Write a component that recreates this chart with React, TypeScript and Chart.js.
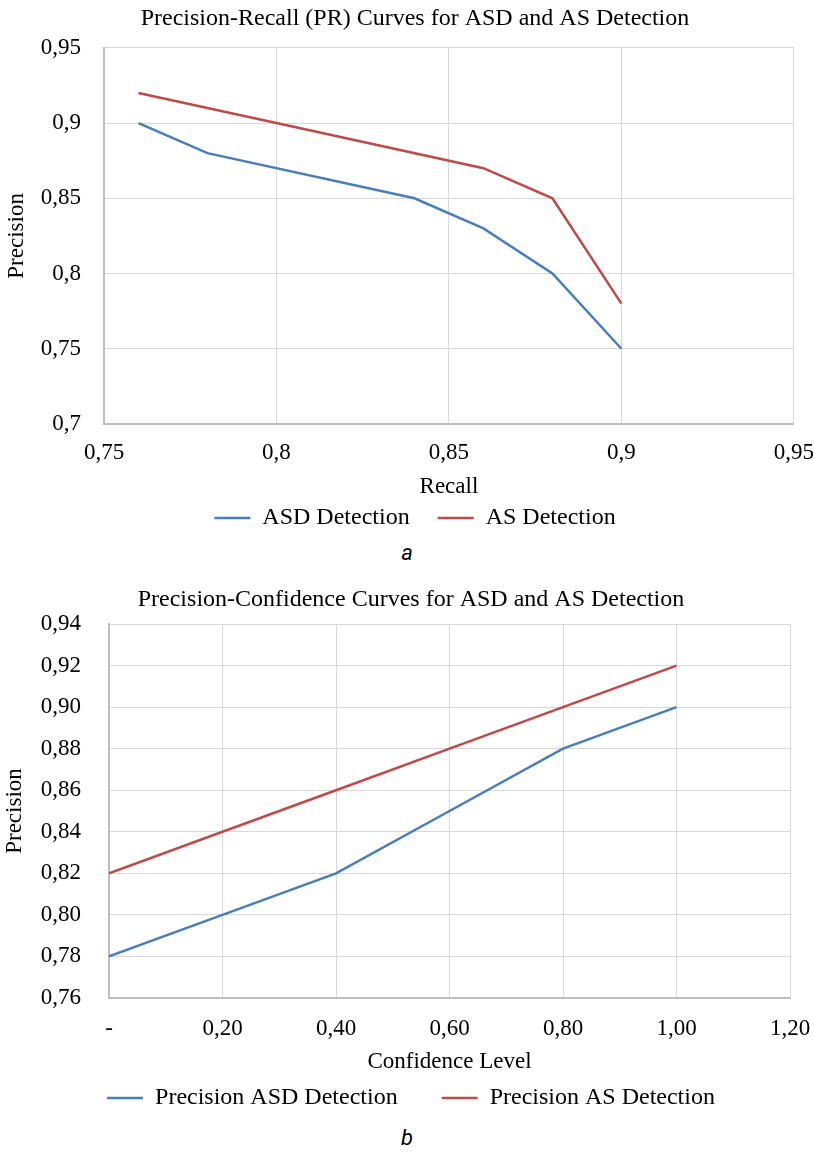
import React, { useEffect, useRef } from "react";
import { Chart, registerables } from "chart.js";

Chart.register(...registerables);

// ---- Chart (a): Precision-Recall ----
const prRecallASD = [0.76, 0.78, 0.84, 0.86, 0.88, 0.9];
const prPrecisionASD = [0.9, 0.88, 0.85, 0.83, 0.8, 0.75];
const prRecallAS = [0.76, 0.8, 0.86, 0.88, 0.9];
const prPrecisionAS = [0.92, 0.9, 0.87, 0.85, 0.78];
const prXTicks = ["0,75", "0,8", "0,85", "0,9", "0,95"];
const prYTicks = ["0,7", "0,75", "0,8", "0,85", "0,9", "0,95"];

// ---- Chart (b): Precision-Confidence ----
const confLevels = [0, 0.2, 0.4, 0.6, 0.8, 1.0];
const confPrecisionASD = [0.78, 0.8, 0.82, 0.85, 0.88, 0.9];
const confPrecisionAS = [0.82, 0.84, 0.86, 0.88, 0.9, 0.92];
const pcXTicks = ["-", "0,20", "0,40", "0,60", "0,80", "1,00", "1,20"];
const pcYTicks = ["0,76", "0,78", "0,80", "0,82", "0,84", "0,86", "0,88", "0,90", "0,92", "0,94"];

const BLUE = "#4A7EBB";
const RED = "#BE4B48";
const GRID = "#d9d9d9";
const AXIS = "#bfbfbf";
const SERIF = "'Liberation Serif', 'Times New Roman', serif";

const toPoints = (xs: number[], ys: number[]) => xs.map((x, i) => ({ x, y: ys[i] }));

const tickFrom = (labels: string[], min: number, step: number) => (value: any) => {
  const idx = Math.round((Number(value) - min) / step);
  return labels[idx] ?? "";
};

type Cfg = {
  title: string;
  titlePad: { top: number; bottom: number };
  xTitle: string;
  xMin: number; xMax: number; xStep: number; xLabels: string[];
  yMin: number; yMax: number; yStep: number; yLabels: string[];
  yWidth: number;
  yTickPad: number;
  yTitlePadTop: number;
  xTickGap: number;
  xHeight: number;
  xTitlePadBottom: number;
  legendPad: number;
  padLeft: number;
  padRight: number;
  series: { label: string; color: string; data: { x: number; y: number }[] }[];
};

function buildConfig(c: Cfg): any {
  return {
    type: "scatter",
    data: {
      datasets: c.series.map((s) => ({
        label: s.label,
        data: s.data,
        showLine: true,
        borderColor: s.color,
        backgroundColor: s.color,
        borderWidth: 2.5,
        pointRadius: 0,
        pointHoverRadius: 0,
        tension: 0,
        pointStyle: "line",
      })),
    },
    options: {
      responsive: false,
      animation: false,
      maintainAspectRatio: false,
      layout: { padding: { top: 0, left: c.padLeft, right: c.padRight, bottom: 0 } },
      plugins: {
        tooltip: { enabled: false },
        title: {
          display: true,
          text: c.title,
          color: "#000",
          font: { family: SERIF, size: 24, weight: "normal" },
          padding: c.titlePad,
        },
        legend: {
          display: true,
          position: "bottom",
          labels: {
            color: "#000",
            font: { family: SERIF, size: 24 },
            usePointStyle: true,
            pointStyle: "line",
            pointStyleWidth: 36,
            padding: c.legendPad,
          },
        },
      },
      scales: {
        x: {
          type: "linear",
          min: c.xMin,
          max: c.xMax,
          afterFit: (scale: any) => {
            scale.height = c.xHeight;
          },
          ticks: {
            stepSize: c.xStep,
            color: "#000",
            font: { family: SERIF, size: 23 },
            padding: 0,
            maxRotation: 0,
            autoSkip: false,
            callback: tickFrom(c.xLabels, c.xMin, c.xStep),
          },
          grid: {
            color: GRID,
            lineWidth: 1,
            drawTicks: true,
            tickLength: c.xTickGap,
            tickColor: "rgba(0,0,0,0)",
          },
          border: { color: AXIS, width: 2 },
          title: {
            display: true,
            text: c.xTitle,
            color: "#000",
            font: { family: SERIF, size: 23 },
            padding: { top: 0, bottom: c.xTitlePadBottom },
          },
        },
        y: {
          type: "linear",
          min: c.yMin,
          max: c.yMax,
          afterFit: (scale: any) => {
            scale.width = c.yWidth;
          },
          ticks: {
            stepSize: c.yStep,
            color: "#000",
            font: { family: SERIF, size: 23 },
            padding: c.yTickPad,
            autoSkip: false,
            callback: tickFrom(c.yLabels, c.yMin, c.yStep),
          },
          grid: { color: GRID, lineWidth: 1, drawTicks: false },
          border: { color: AXIS, width: 2 },
          title: {
            display: true,
            text: "Precision",
            color: "#000",
            font: { family: SERIF, size: 23 },
            padding: { top: c.yTitlePadTop, bottom: 0 },
          },
        },
      },
    },
  };
}

function ChartCanvas({ config, width, height, top }: { config: any; width: number; height: number; top: number }) {
  const ref = useRef<HTMLCanvasElement>(null);
  useEffect(() => {
    if (!ref.current) return;
    const chart = new Chart(ref.current, config);
    return () => chart.destroy();
  }, []);
  return (
    <canvas
      ref={ref}
      width={width}
      height={height}
      style={{ position: "absolute", left: 0, top, width, height, display: "block" }}
    />
  );
}

const configA = buildConfig({
  title: "Precision-Recall (PR) Curves for ASD and AS Detection",
  titlePad: { top: 4, bottom: 15 },
  xTitle: "Recall",
  xMin: 0.75, xMax: 0.95, xStep: 0.05, xLabels: prXTicks,
  yMin: 0.7, yMax: 0.95, yStep: 0.05, yLabels: prYTicks,
  yWidth: 88,
  yTickPad: 23,
  yTitlePadTop: -13,
  xTickGap: 15,
  xHeight: 54,
  xTitlePadBottom: -22.8,
  legendPad: 28,
  padLeft: 16,
  padRight: 0,
  series: [
    { label: "ASD Detection", color: BLUE, data: toPoints(prRecallASD, prPrecisionASD) },
    { label: "AS Detection", color: RED, data: toPoints(prRecallAS, prPrecisionAS) },
  ],
});

const configB = buildConfig({
  title: "Precision-Confidence Curves for ASD and AS Detection",
  titlePad: { top: 5.6, bottom: 9.6 },
  xTitle: "Confidence Level",
  xMin: 0, xMax: 1.2, xStep: 0.2, xLabels: pcXTicks,
  yMin: 0.76, yMax: 0.94, yStep: 0.02, yLabels: pcYTicks,
  yWidth: 77,
  yTickPad: 28,
  yTitlePadTop: -31,
  xTickGap: 17,
  xHeight: 44,
  xTitlePadBottom: -33.8,
  legendPad: 44,
  padLeft: 32,
  padRight: 24,
  series: [
    { label: "Precision ASD Detection", color: BLUE, data: toPoints(confLevels, confPrecisionASD) },
    { label: "Precision AS Detection", color: RED, data: toPoints(confLevels, confPrecisionAS) },
  ],
});

const captionStyle: React.CSSProperties = {
  position: "absolute",
  left: 0,
  width: 814,
  textAlign: "center",
  fontFamily: "Roboto, 'Noto Sans', sans-serif",
  fontStyle: "italic",
  fontSize: 22,
  lineHeight: "26px",
  color: "#000",
};

export default function App() {
  return (
    <div style={{ position: "absolute", left: 0, top: 0, width: 814, height: 1152, background: "#fff", overflow: "hidden" }}>
      <ChartCanvas config={configA} width={814} height={540} top={0} />
      <div style={{ ...captionStyle, top: 540 }}>a</div>
      <ChartCanvas config={configB} width={814} height={540} top={580} />
      <div style={{ ...captionStyle, top: 1125 }}>b</div>
    </div>
  );
}
